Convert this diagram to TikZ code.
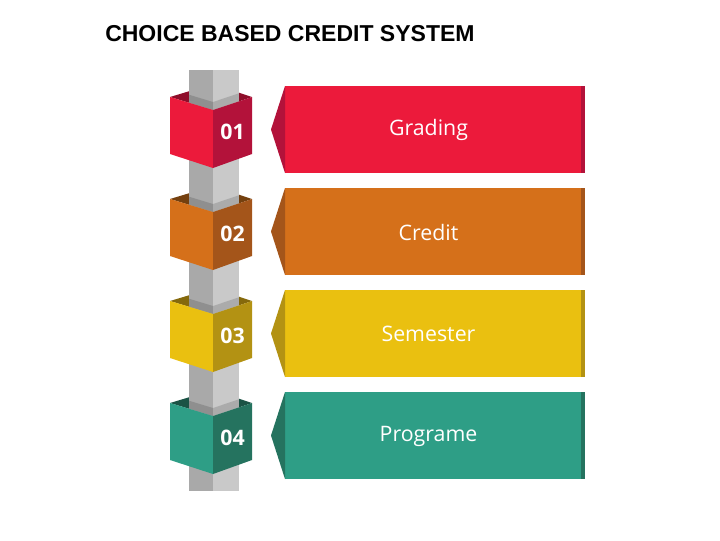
\documentclass[tikz,border=0pt]{standalone}
\usepackage{fontspec}
\setmainfont{Open Sans}
\newfontfamily\titlefont{Liberation Sans}
\definecolor{redM}{HTML}{EC1A3B}
\definecolor{redD}{HTML}{B3123A}
\definecolor{redB}{HTML}{8E0E2A}
\definecolor{oraM}{HTML}{D5701A}
\definecolor{oraD}{HTML}{A4551A}
\definecolor{oraB}{HTML}{74400F}
\definecolor{yelM}{HTML}{EAC010}
\definecolor{yelD}{HTML}{B39213}
\definecolor{yelB}{HTML}{85690C}
\definecolor{teaM}{HTML}{2E9E86}
\definecolor{teaD}{HTML}{25735F}
\definecolor{teaB}{HTML}{1B5345}
\definecolor{pilL}{HTML}{A9A9A9}
\definecolor{pilR}{HTML}{C9C9C9}
\tikzset{
  labeltext/.style={text=white, font=\fontsize{16}{18}\selectfont, inner sep=0pt},
  numtext/.style={text=white, font=\bfseries\fontsize{16}{18}\selectfont, inner sep=0pt},
  titletext/.style={font=\titlefont\bfseries\fontsize{17.25}{20}\selectfont, inner sep=0pt, anchor=base west}
}
\begin{document}
\begin{tikzpicture}[x=0.75pt, y=-0.75pt]
\useasboundingbox (0,0) rectangle (720,540);
\node[titletext] (title) at (105,41) {CHOICE BASED CREDIT SYSTEM};
% back walls of boxes
\foreach \k/\cB in {0/redB,1/oraB,2/yelB,3/teaB}{
  \fill[\cB] (170,97+102*\k) -- (213,84+102*\k) -- (252,97+102*\k) -- (213,110+102*\k) -- cycle;
}
% pillar
\fill[pilL] (189,70) rectangle (213,491);
\fill[pilR] (213,70) rectangle (239,491);
% shadows on pillar above each box
\foreach \k in {0,1,2,3}{
  \fill[black, opacity=0.15] (189,102.7+102*\k) -- (213,110+102*\k) -- (239,101.3+102*\k) -- (239,93.3+102*\k) -- (213,102+102*\k) -- (189,94.7+102*\k) -- cycle;
}
% front faces, banners
\foreach \k/\cM/\cD/\num/\lab in {0/redM/redD/01/Grading,1/oraM/oraD/02/Credit,2/yelM/yelD/03/Semester,3/teaM/teaD/04/Programe}{
  \fill[\cM] (170,97+102*\k) -- (213,110+102*\k) -- (213,168+102*\k) -- (170,154+102*\k) -- cycle;
  \fill[\cD] (213,110+102*\k) -- (252,97+102*\k) -- (252,154+102*\k) -- (213,168+102*\k) -- cycle;
  \node[numtext] (num\k) at (232.5,132+102*\k) {\num};
  % banner
  \fill[\cM] (285,86+102*\k) rectangle (582,173+102*\k);
  \fill[\cD] (285,86+102*\k) -- (271,129.5+102*\k) -- (285,173+102*\k) -- cycle;
  \fill[\cD] (581,86+102*\k) rectangle (585,173+102*\k);
  \node[labeltext] (lab\k) at (428.5,130+102*\k) {\lab};
}
\end{tikzpicture}
\end{document}
